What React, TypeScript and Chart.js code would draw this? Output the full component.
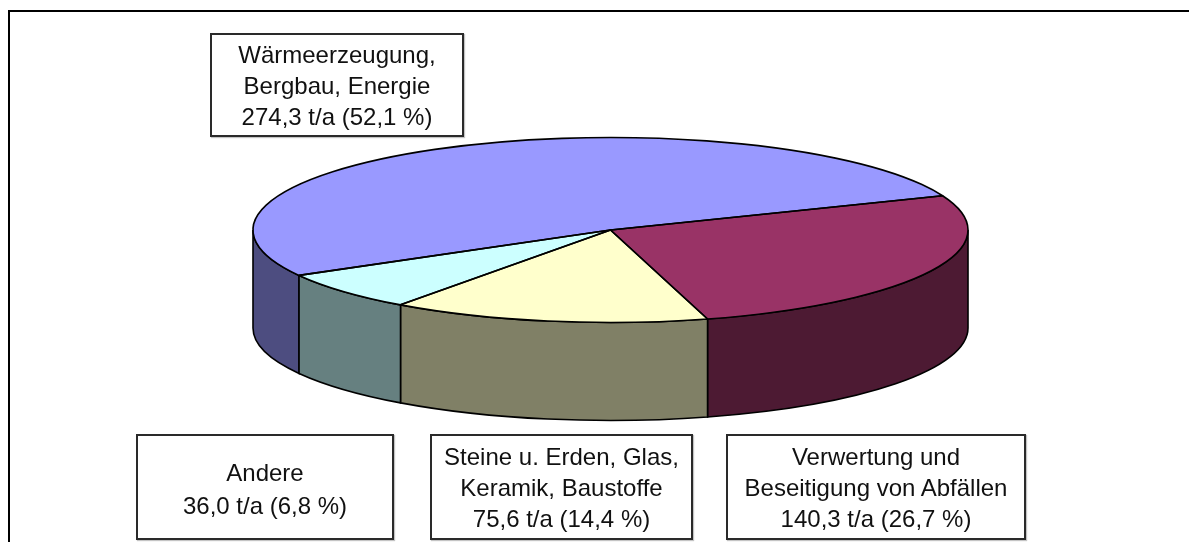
import React, { useEffect, useRef } from "react";
import { Chart, registerables } from "chart.js";

Chart.register(...registerables);

const categories = [
  ["Wärmeerzeugung,", "Bergbau, Energie"],
  ["Verwertung und", "Beseitigung von Abfällen"],
  ["Steine u. Erden, Glas,", "Keramik, Baustoffe"],
  ["Andere"],
];
const values = [274.3, 140.3, 75.6, 36.0];
const amountLabels = ["274,3 t/a (52,1 %)", "140,3 t/a (26,7 %)", "75,6 t/a (14,4 %)", "36,0 t/a (6,8 %)"];
const topColors = ["#9999ff", "#993366", "#ffffcc", "#ccffff"];
const wallColors = ["#4d4d80", "#4d1a33", "#808066", "#668080"];
const boxes = [
  { left: 210, top: 33, width: 254, height: 104 },
  { left: 726, top: 434, width: 300, height: 106 },
  { left: 430, top: 434, width: 263, height: 106 },
  { left: 136, top: 434, width: 258, height: 106 },
];

const CX = 610.5;
const CY = 230;
const RX = 357.5;
const RY = 92.5;
const DEPTH = 98;
const W = 1189;
const H = 542;

const pie3d = {
  id: "pie3d",
  beforeDraw(chart: any) {
    const ctx = chart.ctx;
    ctx.save();
    ctx.strokeStyle = "#000";
    ctx.lineWidth = 2;
    ctx.beginPath();
    ctx.moveTo(9, H);
    ctx.lineTo(9, 11);
    ctx.lineTo(W, 11);
    ctx.stroke();
    ctx.restore();
  },
  beforeDatasetsDraw(chart: any) {
    const ctx = chart.ctx;
    const arcs = chart.getDatasetMeta(0).data;
    ctx.save();
    ctx.lineWidth = 1.6;
    ctx.strokeStyle = "#000";
    arcs.forEach((arc: any, i: number) => {
      // the front of the disc is the part of the circle between 0 and 180 degrees
      for (const shift of [0, Math.PI * 2, -Math.PI * 2]) {
        const a = Math.max(arc.startAngle + shift, 0);
        const b = Math.min(arc.endAngle + shift, Math.PI);
        if (b <= a) continue;
        ctx.beginPath();
        ctx.ellipse(CX, CY, RX, RY, 0, a, b);
        ctx.ellipse(CX, CY + DEPTH, RX, RY, 0, b, a, true);
        ctx.closePath();
        ctx.fillStyle = wallColors[i];
        ctx.fill();
        ctx.stroke();
      }
    });
    ctx.restore();
    const first = arcs[0];
    ctx.save();
    ctx.translate(CX, CY);
    ctx.scale(RX / first.outerRadius, RY / first.outerRadius);
    ctx.translate(-first.x, -first.y);
  },
  afterDatasetsDraw(chart: any) {
    const ctx = chart.ctx;
    ctx.restore();
    const arcs = chart.getDatasetMeta(0).data;
    ctx.save();
    ctx.lineWidth = 1.6;
    ctx.strokeStyle = "#000";
    ctx.lineJoin = "round";
    arcs.forEach((arc: any) => {
      ctx.beginPath();
      ctx.moveTo(CX, CY);
      ctx.ellipse(CX, CY, RX, RY, 0, arc.startAngle, arc.endAngle);
      ctx.closePath();
      ctx.stroke();
    });
    ctx.restore();
  },
};

export default function App() {
  const ref = useRef<HTMLCanvasElement>(null);
  useEffect(() => {
    const chart = new Chart(ref.current as HTMLCanvasElement, {
      type: "pie",
      data: {
        labels: categories.map((c) => c.join(" ")),
        datasets: [
          {
            data: values,
            backgroundColor: topColors,
            borderWidth: 0,
            clip: false,
          } as any,
        ],
      },
      options: {
        responsive: false,
        animation: false,
        rotation: 240.6,
        layout: { padding: 0 },
        plugins: { legend: { display: false }, tooltip: { enabled: false }, title: { display: false } },
      },
      plugins: [pie3d],
    });
    return () => chart.destroy();
  }, []);

  return (
    <div style={{ position: "fixed", left: 0, top: 0, width: W, height: H, overflow: "hidden", background: "#fff" }}>
      <canvas ref={ref} width={W} height={H} style={{ position: "absolute", left: 0, top: 0, width: W, height: H }} />
      {boxes.map((b, i) => (
        <div
          key={i}
          style={{
            position: "absolute",
            left: b.left,
            top: b.top,
            width: b.width,
            height: b.height,
            boxSizing: "border-box",
            border: "2px solid #2a2a2a",
            boxShadow: "1px 1px 1px #c4c4c4",
            background: "#fff",
            display: "flex",
            flexDirection: "column",
            alignItems: "center",
            justifyContent: "center",
            paddingTop: categories[i].length === 1 ? 4 : 1,
            fontFamily: '"Liberation Sans", Arial, sans-serif',
            fontSize: 24,
            lineHeight: categories[i].length === 1 ? "33px" : "31px",
            color: "#111",
            whiteSpace: "nowrap",
          }}
        >
          {categories[i].map((line) => (
            <div key={line}>{line}</div>
          ))}
          <div>{amountLabels[i]}</div>
        </div>
      ))}
    </div>
  );
}
